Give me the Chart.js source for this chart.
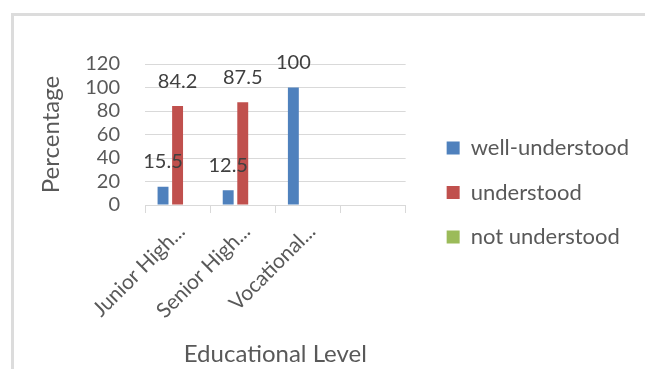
<!DOCTYPE html>
<html>
<head>
<meta charset="utf-8">
<script src="https://cdn.jsdelivr.net/npm/chart.js@4.4.1/dist/chart.umd.min.js"></script>
<style>
  html, body { margin: 0; padding: 0; background: #fff; }
  #wrap { position: relative; width: 645px; height: 369px; overflow: hidden; }
  #frame { position: absolute; left: 11px; top: 13px; right: -20px; bottom: -20px;
           border-left: 3px solid #dcdcdc; border-top: 3px solid #dcdcdc; }
  #grafico { position: absolute; left: 0; top: 0; }
</style>
</head>
<body>
<div id="wrap">
  <div id="frame"></div>
  <canvas id="grafico" width="645" height="369"></canvas>
</div>
<script>
// Dados do gráfico
const niveis = ['Junior High...', 'Senior High...', 'Vocational...', ''];
const bemEntendido = [15.5, 12.5, 100, null];
const entendido = [84.2, 87.5, null, null];
const naoEntendido = [null, null, null, null];
const ticksY = [0, 20, 40, 60, 80, 100, 120];

const corTexto = '#595959';

// Rótulos de valor acima das barras
const rotulosValor = {
  id: 'rotulosValor',
  afterDatasetsDraw(chart) {
    const ctx = chart.ctx;
    ctx.save();
    ctx.font = '20px Lato';
    ctx.fillStyle = '#404040';
    ctx.textAlign = 'center';
    ctx.textBaseline = 'middle';
    chart.data.datasets.forEach((ds, i) => {
      const meta = chart.getDatasetMeta(i);
      meta.data.forEach((barra, j) => {
        const v = ds.data[j];
        if (v === null || v === undefined) return;
        ctx.fillText(String(v), barra.x, barra.y - 25);
      });
    });
    ctx.restore();
  }
};

const ctx = document.getElementById('grafico').getContext('2d');
new Chart(ctx, {
  type: 'bar',
  data: {
    labels: niveis,
    datasets: [
      { label: 'well-understood', data: bemEntendido, backgroundColor: '#4f81bd', borderWidth: 0 },
      { label: 'understood', data: entendido, backgroundColor: '#c0504d', borderWidth: 0 },
      { label: 'not understood', data: naoEntendido, backgroundColor: '#9bbb59', borderWidth: 0 }
    ]
  },
  options: {
    responsive: false,
    animation: false,
    categoryPercentage: 0.67,
    barPercentage: 0.75,
    layout: { padding: { left: 0, right: 6, top: 16, bottom: 0 } },
    scales: {
      x: {
        grid: { display: true, drawOnChartArea: false, drawTicks: true, tickLength: 8, color: '#d9d9d9', offset: true },
        border: { display: true, color: '#d9d9d9' },
        ticks: { color: corTexto, font: { family: 'Lato', size: 21 }, minRotation: 45, maxRotation: 45, padding: 6, labelOffset: 4, autoSkip: false },
        title: { display: true, text: 'Educational Level', color: corTexto, font: { family: 'Lato', size: 24 }, padding: { top: 0, bottom: 0 } },
        afterFit: (eixo) => { eixo.height = 164; }
      },
      y: {
        min: 0,
        max: 120,
        afterBuildTicks: (eixo) => { eixo.ticks = ticksY.map(v => ({ value: v })); },
        grid: { color: '#d9d9d9', drawTicks: false },
        border: { display: false },
        ticks: { color: corTexto, font: { family: 'Lato', size: 20 }, padding: 25, autoSkip: false },
        title: { display: true, text: 'Percentage', color: corTexto, font: { family: 'Lato', size: 24 }, padding: { top: 37, bottom: 0 } },
        afterFit: (eixo) => { eixo.width = 145; }
      },
      y2: {
        position: 'right',
        display: true,
        grid: { display: false },
        border: { display: false },
        ticks: { display: false },
        afterFit: (eixo) => { eixo.width = 18.5; }
      }
    },
    plugins: {
      title: { display: true, text: '', font: { size: 10, lineHeight: 1 }, padding: { top: 38, bottom: 0 } },
      legend: {
        display: true,
        position: 'right',
        maxWidth: 400,
        labels: { color: corTexto, font: { family: 'Lato', size: 22 }, boxWidth: 13, boxHeight: 13, padding: 22.5 }
      },
      tooltip: { enabled: false }
    }
  },
  plugins: [rotulosValor]
});
</script>
</body>
</html>
